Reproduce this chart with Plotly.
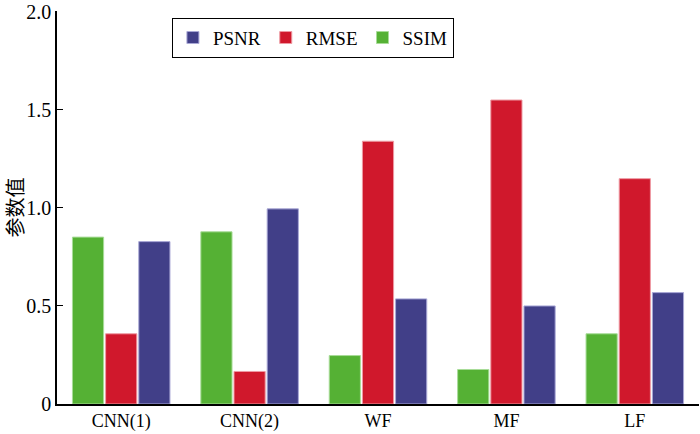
import plotly.graph_objects as go

categories = ["CNN(1)", "CNN(2)", "WF", "MF", "LF"]
ssim = [0.851, 0.878, 0.247, 0.176, 0.358]
rmse = [0.358, 0.166, 1.34, 1.55, 1.149]
psnr = [0.828, 0.995, 0.536, 0.50, 0.568]
y_tickvals = [0, 0.5, 1.0, 1.5, 2.0]
y_ticktext = ["0", "0.5", "1.0", "1.5", "2.0"]

fig = go.Figure()
fig.add_bar(name="SSIM", x=categories, y=ssim, marker=dict(color="#55B134", line=dict(color="#A8DC98", width=1)))
fig.add_bar(name="RMSE", x=categories, y=rmse, marker=dict(color="#D0182C", line=dict(color="#EE9AA3", width=1)))
fig.add_bar(name="PSNR", x=categories, y=psnr, marker=dict(color="#413F88", line=dict(color="#A9A8D6", width=1)))

fig.update_layout(
    width=700, height=434,
    margin=dict(l=57, r=1, t=11, b=30),
    paper_bgcolor="white", plot_bgcolor="white",
    barmode="group", bargap=0.225, bargroupgap=0.06,
    font=dict(family="Liberation Serif", size=18, color="black"),
    showlegend=True,
    legend=dict(
        orientation="h", traceorder="reversed",
        x=0.179, y=0.983, xanchor="left", yanchor="top",
        bordercolor="black", borderwidth=1, bgcolor="white",
        font=dict(family="Liberation Serif", size=19),
        itemwidth=30, tracegroupgap=0,
    ),
    xaxis=dict(
        showline=True, linecolor="black", linewidth=1.5,
        ticks="", showgrid=False, tickfont=dict(size=18), automargin=False,
    ),
    yaxis=dict(
        range=[0, 2.004], tickvals=y_tickvals, ticktext=y_ticktext,
        showline=True, linecolor="black", linewidth=1.5,
        ticks="inside", ticklen=6, tickcolor="black", showgrid=False,
        zeroline=False, tickfont=dict(size=20), automargin=False,
        title=dict(text="参数值", font=dict(family="Noto Sans CJK SC", size=20), standoff=4),
    ),
)

fig.write_html("out.html", config={"displayModeBar": False},
               post_script="document.body.style.margin='0';")
